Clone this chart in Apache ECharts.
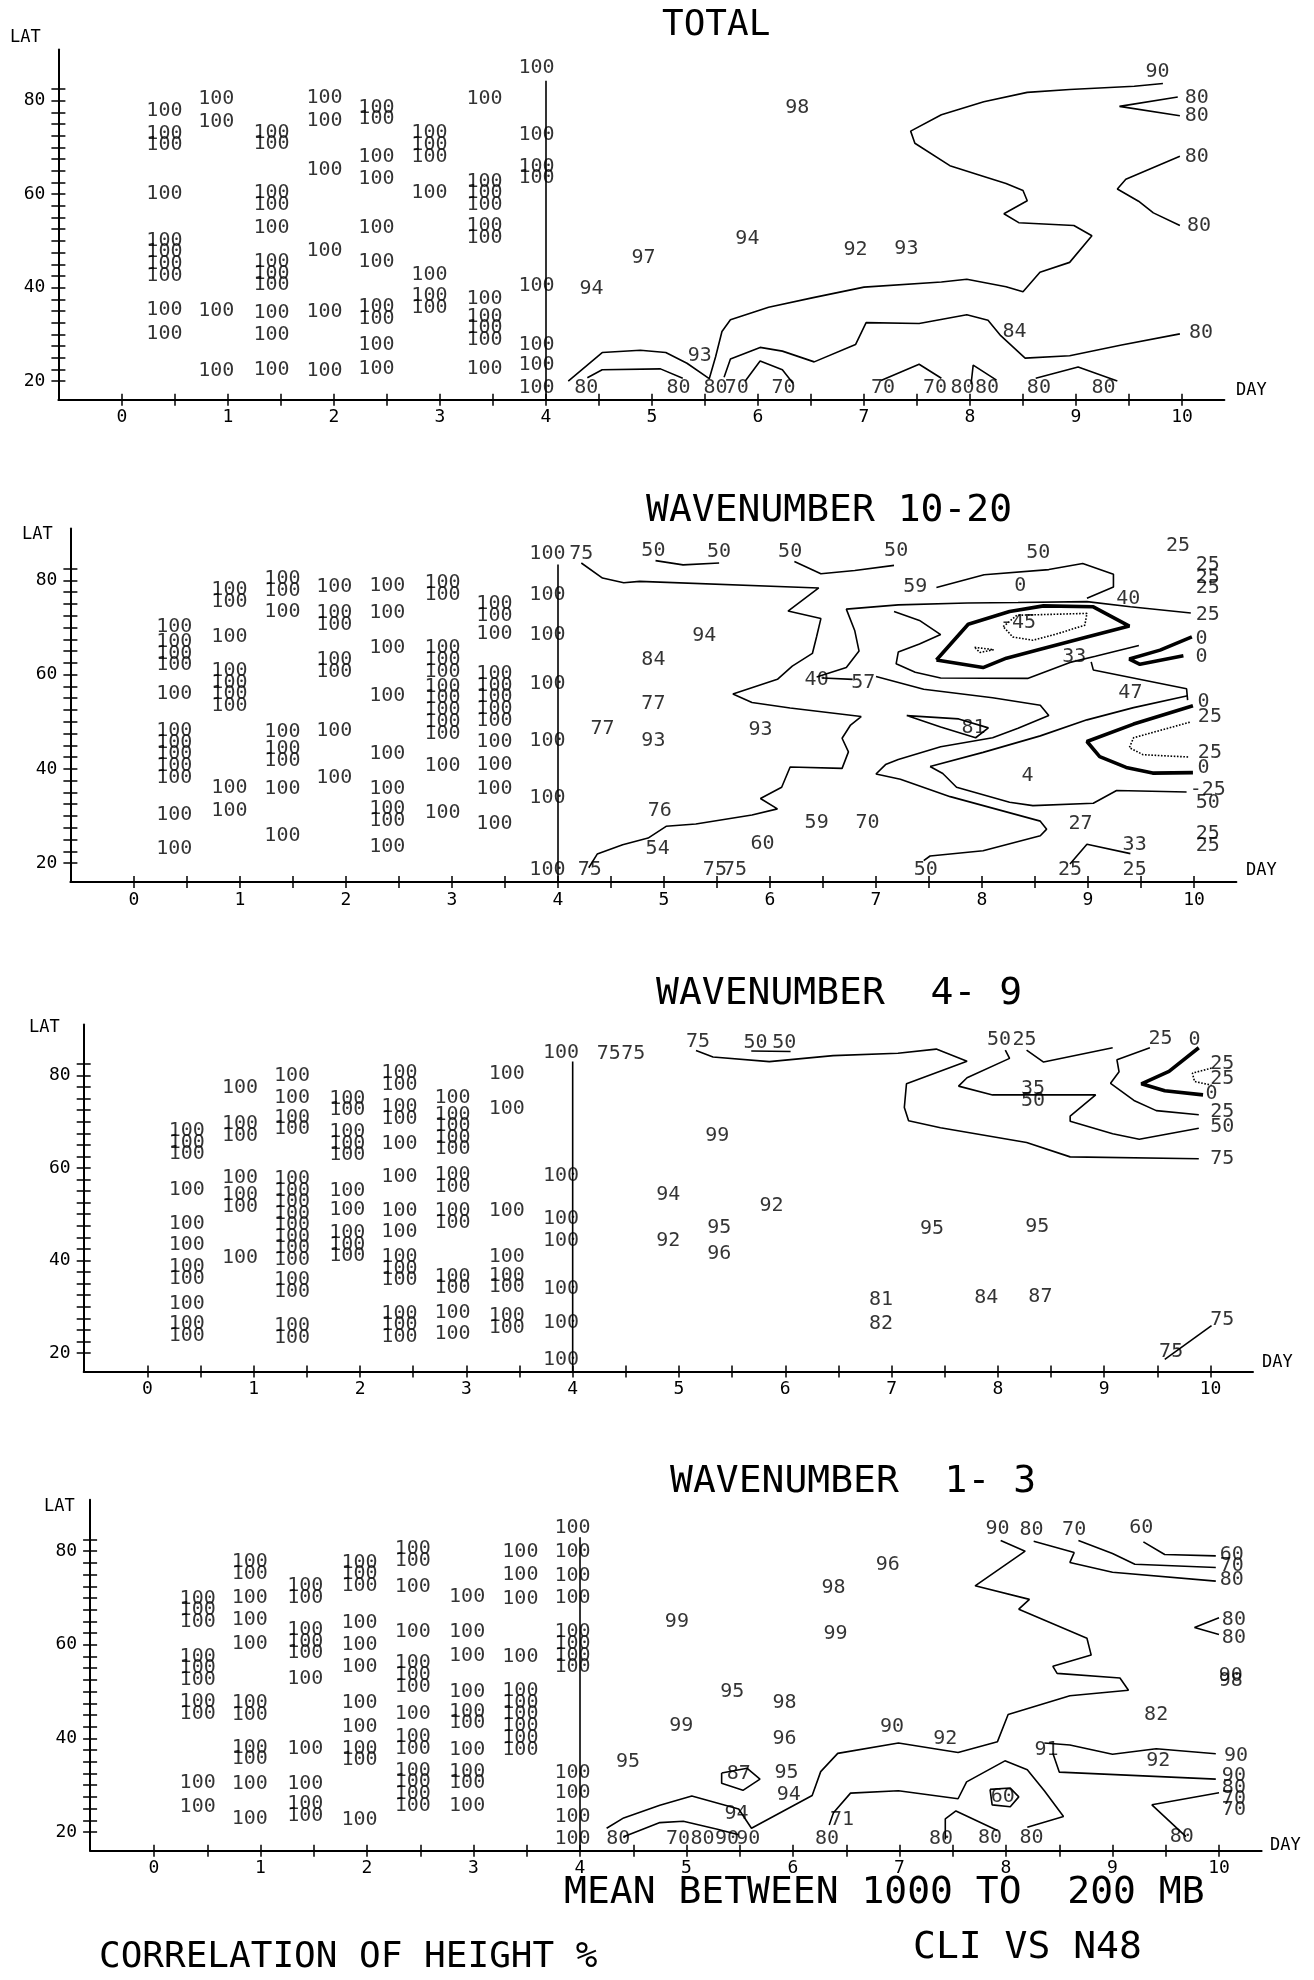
<!DOCTYPE html>
<html>
<head>
<meta charset="utf-8">
<script src="https://cdn.jsdelivr.net/npm/echarts@6/dist/echarts.min.js"></script>
<style>
  html, body { margin: 0; padding: 0; background: #fff; }
  #chart { width: 1314px; height: 1980px; }
</style>
</head>
<body>
<div id="chart"></div>
<script>
// axis ticks and labels
const dayTicks = [0, 0.5, 1, 1.5, 2, 2.5, 3, 3.5, 4, 4.5, 5, 5.5, 6, 6.5, 7, 7.5, 8, 8.5, 9, 9.5, 10];
const dayLabels = [0, 1, 2, 3, 4, 5, 6, 7, 8, 9, 10];
const latTicks = [20, 22.5, 25, 27.5, 30, 32.5, 35, 37.5, 40, 42.5, 45, 47.5, 50, 52.5, 55, 57.5, 60, 62.5, 65, 67.5, 70, 72.5, 75, 77.5, 80, 82.5];
const latLabels = [20, 40, 60, 80];

// ---------- TOTAL ----------
// printed "100" values : [day, [lat, lat, ...]]
const p1Hundred = [
  [0.40, [77.9, 73.0, 70.5, 60.1, 50.1, 47.6, 45.1, 42.6, 35.2, 30.1]],
  [0.89, [80.5, 75.4, 35.0, 22.2]],
  [1.41, [73.25, 70.75, 60.25, 57.75, 52.8, 45.5, 43.0, 40.5, 34.7, 29.9, 22.4]],
  [1.91, [80.6, 75.8, 65.3, 47.9, 34.9, 22.2]],
  [2.40, [78.55, 76.05, 67.9, 63.2, 52.7, 45.5, 35.85, 33.35, 27.7, 22.6]],
  [2.90, [73.1, 70.6, 68.1, 60.4, 42.7, 38.15, 35.65]],
  [3.42, [80.5, 62.7, 60.2, 57.7, 53.15, 50.65, 37.7, 33.8, 31.3, 28.8, 22.6]],
  [3.91, [87.0, 72.7, 65.95, 63.45, 40.4, 27.8, 23.4, 18.6]]
];
// other printed values: [day, lat, text]
const p1Labels = [
  [4.92, 46.4, '97'], [4.43, 39.8, '94'], [6.37, 78.4, '98'], [5.90, 50.4, '94'],
  [6.92, 48.1, '92'], [7.40, 48.3, '93'], [9.77, 86.3, '90'], [10.14, 80.7, '80'],
  [10.14, 76.8, '80'], [10.14, 68.1, '80'], [10.16, 53.2, '80'], [8.42, 30.5, '84'],
  [10.18, 30.3, '80'], [5.45, 25.3, '93'],
  [4.38, 18.6, '80'], [5.25, 18.6, '80'], [5.60, 18.6, '80'], [5.80, 18.6, '70'],
  [6.24, 18.6, '70'], [7.18, 18.6, '70'], [7.67, 18.6, '70'], [7.93, 18.6, '80'],
  [8.16, 18.6, '80'], [8.65, 18.6, '80'], [9.26, 18.6, '80']
];
// contour polylines [day, lat]
const p1Lines = [
  [[4, 84.3], [4, 16]],
  [[4.21, 20.0], [4.53, 26.1], [4.89, 26.6], [5.13, 26.1], [5.33, 23.8], [5.54, 20.5], [5.60, 25.2],
   [5.66, 30.6], [5.74, 33.1], [6.10, 35.8], [6.51, 37.8], [7.00, 40.1], [7.73, 41.2], [7.97, 41.8],
   [8.34, 40.2], [8.50, 39.1], [8.66, 43.3], [8.94, 45.4], [9.15, 51.1], [8.98, 53.3], [8.46, 53.9],
   [8.32, 55.8], [8.54, 58.6], [8.50, 60.8], [8.34, 62.3], [8.13, 63.8], [7.81, 66.1], [7.48, 70.9],
   [7.44, 73.5], [7.73, 77.0], [8.13, 79.8], [8.54, 81.8], [8.94, 82.4], [9.55, 83.1], [9.82, 83.7]],
  [[9.96, 80.8], [9.41, 78.8], [9.98, 76.8]],
  [[9.98, 68.1], [9.47, 63.2], [9.39, 61.1], [9.59, 58.5], [9.73, 56.0], [9.98, 53.3]],
  [[4.39, 20.7], [4.53, 22.4], [5.08, 22.6], [5.29, 20.6]],
  [[5.68, 20.8], [5.74, 24.7], [6.02, 27.2], [6.23, 26.4], [6.53, 24.1], [6.92, 27.8], [7.02, 32.5],
   [7.52, 32.3], [7.97, 34.2], [8.17, 33.0], [8.29, 29.7], [8.52, 24.9], [8.94, 25.4], [9.43, 27.7], [9.98, 30.1]],
  [[5.88, 20.0], [6.02, 24.3], [6.23, 22.4], [6.33, 19.5]],
  [[7.16, 20.1], [7.52, 23.6], [7.73, 20.6]],
  [[8.01, 19.3], [8.03, 23.4], [8.25, 20.2]],
  [[8.62, 20.6], [9.02, 23.0], [9.39, 20.0]]
];

// ---------- WAVENUMBER 10-20 ----------
const p2Hundred = [
  [0.38, [70.2, 67.0, 64.5, 62.0, 55.9, 48.1, 45.6, 43.1, 40.6, 38.1, 30.2, 23.1]],
  [0.90, [77.95, 75.45, 68.1, 60.85, 58.35, 55.85, 53.35, 36.0, 31.0]],
  [1.40, [80.25, 77.75, 73.3, 47.9, 44.15, 41.65, 35.8, 25.8]],
  [1.89, [78.7, 73.15, 70.65, 63.15, 60.65, 48.0, 38.0]],
  [2.39, [78.8, 73.1, 65.6, 55.6, 43.1, 35.7, 31.55, 29.05, 23.5]],
  [2.91, [79.45, 76.95, 65.7, 63.2, 60.7, 57.5, 55.0, 52.5, 50.0, 47.5, 40.7, 30.7]],
  [3.40, [74.95, 72.45, 68.7, 60.2, 57.7, 55.2, 52.7, 50.2, 45.8, 40.8, 35.8, 28.3]],
  [3.90, [85.6, 77.0, 68.5, 58.1, 46.0, 33.9, 18.6]]
];
const p2Labels = [
  [4.22, 85.6, '75'], [4.30, 18.6, '75'], [4.42, 48.6, '77'],
  [4.90, 86.3, '50'], [5.52, 86.0, '50'], [6.19, 86.0, '50'], [7.19, 86.2, '50'], [8.53, 85.9, '50'],
  [9.85, 87.4, '25'], [10.13, 83.3, '25'], [10.13, 80.6, '25'], [10.13, 78.4, '25'],
  [7.37, 78.6, '59'], [8.36, 78.8, '0'], [9.38, 76.2, '40'], [10.13, 72.6, '25'], [8.34, 71.0, '-45'],
  [10.07, 67.7, '0'], [10.07, 63.8, '0'], [5.38, 68.2, '94'], [4.90, 63.2, '84'], [8.87, 63.7, '33'],
  [6.44, 58.8, '40'], [6.88, 58.2, '57'], [9.40, 56.2, '47'], [10.09, 54.2, '0'], [10.15, 51.0, '25'],
  [4.90, 53.9, '77'], [7.92, 48.7, '81'], [5.91, 48.3, '93'], [4.90, 46.0, '93'], [10.15, 43.4, '25'],
  [10.09, 40.2, '0'], [8.43, 38.6, '4'], [10.13, 35.6, '-25'], [10.13, 32.7, '50'], [8.93, 28.3, '27'],
  [4.96, 31.0, '76'], [6.44, 28.5, '59'], [6.92, 28.6, '70'], [9.44, 23.8, '33'], [10.13, 26.3, '25'],
  [10.13, 23.6, '25'], [4.94, 23.1, '54'], [5.93, 24.0, '60'],
  [5.48, 18.6, '75'], [5.67, 18.6, '75'], [7.47, 18.6, '50'], [8.83, 18.6, '25'], [9.44, 18.6, '25']
];
const p2Lines = [
  [[4, 83.4], [4, 16]],
  [[4.22, 83.7], [4.42, 80.5], [4.62, 79.5], [4.77, 79.8], [6.46, 78.4], [6.17, 73.5], [6.48, 71.9],
   [6.44, 68.1], [6.40, 64.5], [6.21, 61.8], [6.07, 59.0], [5.65, 55.9], [5.83, 54.1], [6.19, 52.9],
   [6.86, 51.1], [6.76, 49.3], [6.68, 46.5], [6.74, 43.6], [6.68, 40.1], [6.19, 40.4], [6.11, 36.1],
   [5.91, 33.7], [6.07, 31.5], [5.83, 30.2], [5.30, 28.3], [5.02, 27.8], [4.85, 25.3], [4.61, 23.9],
   [4.37, 21.9], [4.29, 19.0]],
  [[4.92, 84.2], [5.18, 83.3], [5.52, 83.7]],
  [[6.23, 84.0], [6.48, 81.4], [6.80, 82.1], [7.17, 83.2]],
  [[6.44, 59.5], [6.72, 61.5], [6.84, 65.0], [6.80, 69.3], [6.72, 73.9], [7.21, 74.8], [7.86, 75.2],
   [8.34, 75.3], [8.99, 75.5], [9.40, 74.4], [9.97, 73.1]],
  [[7.57, 78.5], [8.02, 81.2], [8.63, 82.3], [8.95, 83.6], [9.24, 81.3], [9.24, 78.6], [8.99, 76.2]],
  [[7.17, 73.4], [7.41, 71.5], [7.61, 68.5], [7.41, 66.5], [7.21, 64.8], [7.19, 62.3], [7.37, 60.5],
   [7.61, 59.3], [8.43, 59.2], [8.83, 62.6], [9.07, 63.9], [9.48, 66.2]],
  [[9.03, 62.7], [9.05, 61.0], [9.93, 57.0], [9.94, 54.6]],
  [[7.51, 40.5], [8.01, 43.5], [8.55, 47.0], [8.99, 50.4], [9.43, 53.0], [9.94, 55.5]],
  [[7.51, 40.5], [7.63, 39.0], [7.76, 36.1], [8.26, 32.9], [8.48, 32.2], [9.05, 32.7], [9.27, 35.4], [9.93, 35.1]],
  [[7.00, 59.6], [7.45, 56.9], [8.10, 55.1], [8.55, 53.5], [8.63, 51.3], [8.34, 48.6], [8.10, 46.6],
   [7.61, 44.7], [7.21, 42.0], [7.09, 40.9], [7.00, 38.9], [7.23, 37.8], [7.70, 34.1], [8.55, 28.9],
   [8.61, 27.2], [8.55, 25.8], [8.01, 22.6], [7.51, 21.5], [7.45, 20.5]],
  [[6.50, 59.3], [6.78, 59.0]],
  [[7.29, 51.3], [7.78, 50.6], [8.06, 48.7], [7.94, 46.6], [7.61, 48.9], [7.29, 51.3]],
  [[8.83, 19.8], [8.99, 24.0], [9.40, 22.0]]
];
const p2Thick = [
  [[7.57, 63.1], [7.87, 70.7], [8.26, 73.4], [8.58, 74.6], [9.05, 74.4], [9.39, 70.3], [8.99, 68.0],
   [8.55, 65.4], [8.23, 63.5], [8.01, 61.5], [7.57, 63.1]],
  [[9.98, 68.0], [9.68, 65.2], [9.39, 63.3], [9.49, 62.2], [9.90, 64.0]],
  [[9.99, 53.4], [9.43, 49.5], [8.99, 45.8], [9.11, 42.6], [9.36, 40.3], [9.61, 39.1], [9.99, 39.2]]
];
const p2Dotted = [
  [[8.20, 70.2], [8.33, 72.6], [8.99, 73.0], [8.97, 70.5], [8.70, 68.6], [8.48, 67.3], [8.29, 68.0], [8.20, 70.2]],
  [[7.93, 65.8], [8.11, 65.3], [7.98, 64.7], [7.93, 65.8]],
  [[9.96, 49.9], [9.43, 46.6], [9.39, 44.5], [9.52, 43.0], [9.96, 42.5]]
];

// ---------- WAVENUMBER 4-9 ----------
const p3Hundred = [
  [0.37, [68.0, 65.5, 63.0, 55.3, 47.9, 43.3, 38.55, 36.05, 30.6, 26.25, 23.75]],
  [0.87, [77.4, 69.45, 66.95, 57.9, 54.15, 51.65, 40.6]],
  [1.36, [80.0, 75.1, 70.95, 68.45, 57.65, 55.15, 52.65, 50.15, 47.65, 45.15, 42.65, 40.15, 35.75, 33.25, 25.85, 23.35]],
  [1.88, [75.05, 72.55, 67.8, 65.3, 62.8, 55.1, 50.9, 46.0, 43.5, 41.0]],
  [2.37, [80.55, 78.05, 73.15, 70.65, 65.2, 58.1, 50.7, 46.1, 40.8, 38.3, 35.8, 28.5, 26.0, 23.5]],
  [2.87, [75.2, 71.55, 69.05, 66.55, 64.05, 58.45, 55.95, 50.75, 48.25, 36.55, 34.05, 28.6, 24.1]],
  [3.38, [80.4, 72.9, 50.7, 40.8, 36.75, 34.25, 27.95, 25.45]],
  [3.89, [84.8, 58.3, 49.1, 44.2, 33.9, 26.5, 18.6]]
];
const p3Labels = [
  [4.34, 84.6, '75'], [4.57, 84.6, '75'], [5.18, 87.2, '75'], [5.72, 87.0, '50'], [5.99, 87.0, '50'],
  [8.01, 87.7, '50'], [8.25, 87.7, '25'], [9.53, 87.9, '25'], [9.85, 87.8, '0'],
  [8.33, 77.2, '35'], [8.33, 74.5, '50'],
  [10.11, 82.6, '25'], [10.11, 79.3, '25'], [10.01, 76.0, '0'], [10.11, 72.1, '25'], [10.11, 68.9, '50'],
  [10.11, 62.0, '75'],
  [5.36, 66.9, '99'], [4.90, 54.3, '94'], [5.87, 51.8, '92'], [5.38, 47.0, '95'], [4.90, 44.2, '92'],
  [5.38, 41.5, '96'], [7.38, 46.9, '95'], [8.37, 47.3, '95'], [6.90, 31.5, '81'], [6.90, 26.4, '82'],
  [7.89, 31.9, '84'], [8.40, 32.1, '87'], [10.11, 27.1, '75'], [9.63, 20.3, '75']
];
const p3Lines = [
  [[4, 83.0], [4, 16]],
  [[5.16, 85.4], [5.32, 84.0], [5.85, 83.0], [6.45, 84.3], [7.06, 84.8], [7.42, 85.7], [7.71, 83.1],
   [7.14, 78.2], [7.12, 73.1], [7.16, 70.2], [7.46, 68.7], [8.27, 65.5], [8.68, 62.4], [9.89, 62.0]],
  [[5.68, 85.3], [6.05, 85.2]],
  [[8.07, 85.5], [8.11, 83.7], [7.71, 79.5], [7.63, 77.7], [7.95, 75.8], [8.92, 75.8], [8.68, 71.2],
   [8.68, 70.1], [9.08, 67.4], [9.33, 66.2], [9.89, 68.6]],
  [[8.27, 85.5], [8.43, 82.9], [9.08, 86.0]],
  [[9.43, 86.0], [9.12, 83.4], [9.14, 80.8], [9.06, 78.3], [9.28, 74.6], [9.49, 72.4], [9.89, 71.5]],
  [[9.57, 18.6], [10.01, 25.9]]
];
const p3Thick = [
  [[9.89, 86.0], [9.61, 80.9], [9.35, 78.2], [9.57, 76.7], [9.93, 75.8]]
];
const p3Dotted = [
  [[10.01, 81.6], [9.83, 80.5], [9.85, 78.7], [10.01, 77.9]]
];

// ---------- WAVENUMBER 1-3 ----------
const p4Hundred = [
  [0.41, [69.9, 67.4, 64.9, 57.5, 55.0, 52.5, 47.85, 45.35, 30.5, 25.4]],
  [0.90, [77.65, 75.15, 70.1, 65.4, 60.3, 47.55, 45.05, 38.05, 35.55, 30.3, 22.9]],
  [1.42, [72.55, 70.05, 63.2, 60.7, 58.2, 52.7, 37.7, 30.3, 26.05, 23.55]],
  [1.93, [77.6, 75.1, 72.6, 64.8, 60.1, 55.3, 47.6, 42.5, 37.85, 35.35, 22.7]],
  [2.43, [80.45, 77.95, 72.3, 62.7, 56.1, 53.6, 51.1, 45.2, 40.25, 37.75, 33.15, 30.65, 28.15, 25.65]],
  [2.94, [70.2, 62.8, 57.7, 50.0, 45.75, 43.25, 37.6, 32.95, 30.45, 25.5]],
  [3.44, [79.8, 75.0, 69.9, 57.5, 50.15, 47.65, 45.15, 42.65, 40.15, 37.65]],
  [3.93, [85.0, 79.9, 74.8, 70.0, 62.75, 60.25, 57.75, 55.25, 32.7, 28.3, 23.2, 18.6]]
];
const p4Labels = [
  [4.45, 35.0, '95'], [4.36, 18.6, '80'],
  [7.92, 84.8, '90'], [8.24, 84.6, '80'], [8.64, 84.5, '70'], [9.27, 84.9, '60'],
  [10.12, 79.3, '60'], [10.12, 76.8, '70'], [10.12, 73.8, '80'],
  [6.89, 77.0, '96'], [6.38, 72.2, '98'], [4.91, 64.9, '99'], [6.40, 62.3, '99'],
  [10.14, 65.4, '80'], [10.14, 61.4, '80'], [10.11, 53.4, '90'], [10.11, 52.2, '98'],
  [9.41, 45.1, '82'], [5.43, 50.0, '95'], [5.92, 47.6, '98'], [4.95, 42.7, '99'], [5.92, 40.0, '96'],
  [6.93, 42.4, '90'], [7.43, 40.0, '92'], [8.38, 37.6, '91'], [9.43, 35.2, '92'], [10.16, 36.3, '90'],
  [5.49, 32.5, '87'], [5.94, 32.7, '95'], [5.96, 28.0, '94'],
  [10.14, 31.9, '90'], [10.14, 29.4, '80'], [10.14, 27.0, '70'], [10.14, 24.8, '70'],
  [7.97, 27.6, '60'], [5.47, 23.8, '94'], [6.46, 22.5, '71'],
  [4.92, 18.6, '70'], [5.15, 18.6, '80'], [5.38, 18.6, '90'], [5.58, 18.6, '90'], [6.32, 18.6, '80'],
  [7.39, 18.6, '80'], [7.85, 18.8, '80'], [8.24, 18.8, '80'], [9.65, 19.0, '80']
];
const p4Lines = [
  [[4, 83.0], [4, 16]],
  [[4.25, 20.8], [4.41, 23.0], [4.75, 25.7], [5.05, 27.7], [5.49, 24.9], [5.61, 20.8], [6.18, 27.8],
   [6.26, 32.9], [6.42, 36.8], [6.99, 39.0], [7.55, 37.0], [7.92, 39.3], [8.02, 45.1], [8.60, 49.1],
   [9.15, 50.3], [9.07, 52.9], [8.48, 53.9], [8.44, 55.4], [8.80, 57.8], [8.76, 61.4], [8.12, 67.6],
   [8.22, 69.7], [7.71, 72.6], [8.18, 80.0], [7.95, 82.3]],
  [[4.41, 19.0], [4.75, 22.0], [4.97, 22.3], [5.29, 20.6], [5.49, 19.4]],
  [[6.34, 21.5], [6.38, 24.1], [6.54, 28.3], [6.99, 28.8], [7.55, 27.1], [7.63, 30.7], [7.99, 35.2],
   [8.20, 33.3], [8.36, 28.8], [8.54, 23.3], [8.20, 21.0]],
  [[5.33, 32.6], [5.57, 33.6], [5.69, 31.3], [5.53, 28.9], [5.33, 30.4], [5.33, 32.6]],
  [[7.85, 29.1], [8.04, 29.4], [8.12, 27.5], [8.04, 25.4], [7.87, 25.8], [7.85, 29.1]],
  [[7.43, 18.4], [7.43, 22.8], [7.53, 24.5], [7.92, 20.3]],
  [[8.36, 39.0], [8.60, 38.6], [9.00, 36.6], [9.41, 37.8], [9.97, 36.7]],
  [[8.44, 36.8], [8.50, 32.8], [9.97, 31.3]],
  [[10.0, 28.4], [9.37, 25.8], [9.69, 19.0]],
  [[8.26, 82.1], [8.64, 79.7], [8.60, 77.6], [9.00, 75.5], [9.97, 73.6]],
  [[8.68, 82.3], [9.00, 79.5], [9.21, 77.2], [9.97, 76.5]],
  [[9.29, 82.0], [9.49, 79.3], [9.97, 79.0]],
  [[10.0, 65.8], [9.77, 63.7], [10.0, 62.2]]
];

// ---------- layout ----------
const FONT = '"DejaVu Sans Mono", "Liberation Mono", monospace';
const INK = '#000';

const panels = [
  { grid: { left: 58.4, top: 49.4, width: 1166, height: 350.3 }, hundred: p1Hundred, labels: p1Labels, lines: p1Lines, thick: [], dotted: [] },
  { grid: { left: 70.4, top: 528.6, width: 1166, height: 353.3 }, hundred: p2Hundred, labels: p2Labels, lines: p2Lines, thick: p2Thick, dotted: p2Dotted },
  { grid: { left: 83.7, top: 1024.6, width: 1169.3, height: 346.9 }, hundred: p3Hundred, labels: p3Labels, lines: p3Lines, thick: p3Thick, dotted: p3Dotted },
  { grid: { left: 90.1, top: 1499.7, width: 1171.5, height: 351 }, hundred: p4Hundred, labels: p4Labels, lines: p4Lines, thick: [], dotted: [] }
];

const texts = [
  { text: 'TOTAL', x: 662, y: 26, size: 36 },
  { text: 'WAVENUMBER 10-20', x: 646, y: 511, size: 38 },
  { text: 'WAVENUMBER  4- 9', x: 656, y: 994, size: 38 },
  { text: 'WAVENUMBER  1- 3', x: 670, y: 1482, size: 38 },
  { text: 'MEAN BETWEEN 1000 TO  200 MB', x: 564, y: 1893, size: 38 },
  { text: 'CLI VS N48', x: 913, y: 1948, size: 38 },
  { text: 'CORRELATION OF HEIGHT %', x: 99, y: 1958, size: 36 },
  { text: 'LAT', x: 10, y: 38, size: 17 },
  { text: 'LAT', x: 22, y: 535, size: 17 },
  { text: 'LAT', x: 29, y: 1028, size: 17 },
  { text: 'LAT', x: 44, y: 1507, size: 17 },
  { text: 'DAY', x: 1236, y: 391, size: 17 },
  { text: 'DAY', x: 1246, y: 871, size: 17 },
  { text: 'DAY', x: 1262, y: 1363, size: 17 },
  { text: 'DAY', x: 1270, y: 1846, size: 17 }
];

function colPoints(cols, text) {
  const out = [];
  cols.forEach(([d, lats]) => lats.forEach(l => out.push([d, l, text])));
  return out;
}

const labelStyle = {
  show: true, position: 'inside', formatter: p => p.value[2],
  fontFamily: FONT, fontSize: 20, color: INK
};

const xAxis = [], yAxis = [], series = [];
panels.forEach((p, i) => {
  const xBase = {
    type: 'value', gridIndex: i, min: -0.6, max: 10.4, position: 'bottom',
    splitLine: { show: false }
  };
  xAxis.push(Object.assign({}, xBase, {
    axisLine: { onZero: false, lineStyle: { color: INK, width: 2 } },
    axisTick: { customValues: dayTicks, length: 6, lineStyle: { color: INK, width: 1.5 } },
    axisLabel: { customValues: dayLabels, margin: 9, fontFamily: FONT, fontSize: 18, color: INK }
  }));
  xAxis.push(Object.assign({}, xBase, {
    axisLine: { show: false, onZero: false },
    axisTick: { customValues: dayTicks, inside: true, length: 6, lineStyle: { color: INK, width: 1.5 } },
    axisLabel: { show: false }
  }));
  const yBase = {
    type: 'value', gridIndex: i, min: 16, max: 91, position: 'left',
    splitLine: { show: false }
  };
  yAxis.push(Object.assign({}, yBase, {
    axisLine: { onZero: false, lineStyle: { color: INK, width: 2 } },
    axisTick: { customValues: latTicks, length: 7, lineStyle: { color: INK, width: 1.5 } },
    axisLabel: { customValues: latLabels, margin: 13, fontFamily: FONT, fontSize: 18, color: INK }
  }));
  yAxis.push(Object.assign({}, yBase, {
    axisLine: { show: false, onZero: false },
    axisTick: { customValues: latTicks, inside: true, length: 7, lineStyle: { color: INK, width: 1.5 } },
    axisLabel: { show: false }
  }));

  const xi = 2 * i, yi = 2 * i;
  const common = { xAxisIndex: xi, yAxisIndex: yi, silent: true, animation: false };
  series.push(Object.assign({
    type: 'scatter', data: colPoints(p.hundred, '100'), symbolSize: 1,
    itemStyle: { color: 'rgba(0,0,0,0)' }, label: labelStyle, clip: false
  }, common));
  series.push(Object.assign({
    type: 'scatter', data: p.labels, symbolSize: 1,
    itemStyle: { color: 'rgba(0,0,0,0)' }, label: labelStyle, clip: false
  }, common));
  const addLines = (list, width, type) => list.forEach(pts => series.push(Object.assign({
    type: 'line', data: pts, symbol: 'none', clip: false,
    lineStyle: { color: INK, width: width, type: type }
  }, common)));
  addLines(p.lines, 1.6, 'solid');
  addLines(p.thick, 3.6, 'solid');
  addLines(p.dotted, 1.6, 'dotted');
});

const chart = echarts.init(document.getElementById('chart'), null, { renderer: 'canvas' });
chart.setOption({
  backgroundColor: '#fff',
  animation: false,
  grid: panels.map(p => Object.assign({ containLabel: false }, p.grid)),
  xAxis: xAxis,
  yAxis: yAxis,
  series: series,
  graphic: texts.map(t => ({
    type: 'text', x: t.x, y: t.y, silent: true,
    style: {
      text: t.text, fill: INK, fontFamily: FONT, fontSize: t.size,
      textVerticalAlign: 'middle', verticalAlign: 'middle'
    }
  }))
});
</script>
</body>
</html>
